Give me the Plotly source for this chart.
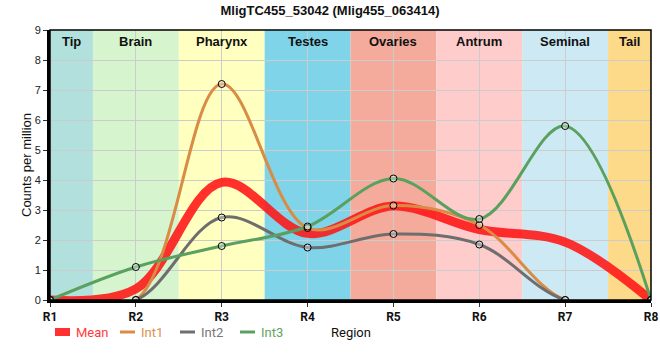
import plotly.graph_objects as go

regions = ["R1", "R2", "R3", "R4", "R5", "R6", "R7", "R8"]
mean_vals = [0, 0.37, 3.92, 2.22, 3.13, 2.35, 1.93, 0]
int1_vals = [0, 0, 7.2, 2.4, 3.15, 2.5, 0, 0]
int2_vals = [0, 0, 2.75, 1.75, 2.2, 1.85, 0, 0]
int3_vals = [0, 1.1, 1.8, 2.45, 4.05, 2.7, 5.8, 0]

band_names = ["Tip", "Brain", "Pharynx", "Testes", "Ovaries", "Antrum", "Seminal", "Tail"]
band_starts = [0, 0.5, 1.5, 2.5, 3.5, 4.5, 5.5, 6.5]
band_ends = [0.5, 1.5, 2.5, 3.5, 4.5, 5.5, 6.5, 7]
band_colors = ["#b2e0dc", "#d6f5cf", "#ffffc0", "#7fd4ea", "#f4ab9c", "#ffcccc", "#cce9f4", "#fdd98a"]

W, H = 660, 360
L, R, T, B = 50, 9, 30, 60
PW, PH = W - L - R, H - T - B


def px(x):
    return (x - L) / PW


def py(y):
    return (H - B - y) / PH


xs = list(range(len(regions)))

fig = go.Figure()

for s, e, c, n in zip(band_starts, band_ends, band_colors, band_names):
    fig.add_shape(type="rect", xref="x", yref="paper", x0=s, x1=e, y0=0, y1=1,
                  fillcolor=c, line_width=0, layer="below")
    fig.add_annotation(x=(s + e) / 2, y=1, xref="x", yref="paper", yanchor="top",
                       yshift=-2, text="<b>%s</b>" % n, showarrow=False,
                       font=dict(family="Liberation Sans, Arial", size=13, color="#111"))

mean_col = "rgba(255,20,20,0.88)"
fig.add_trace(go.Scatter(x=xs, y=mean_vals, mode="lines", name="Mean",
                         line=dict(color=mean_col, width=9, shape="spline", smoothing=1.0)))
series = [("Int1", int1_vals, "#d98c45"), ("Int2", int2_vals, "#6e6e6e"), ("Int3", int3_vals, "#5aa05e")]
for name, vals, col in series:
    fig.add_trace(go.Scatter(x=xs, y=vals, mode="lines", name=name,
                             line=dict(color=col, width=3, shape="spline", smoothing=1.0)))
for name, vals, col in series:
    fig.add_trace(go.Scatter(x=xs, y=vals, mode="markers", name=name, showlegend=False,
                             marker=dict(size=7, color="rgba(255,255,255,0.35)",
                                         line=dict(color="black", width=1))))

fig.add_shape(type="rect", xref="paper", yref="paper", x0=0, x1=1, y0=0, y1=1,
              line=dict(color="black", width=1.5), layer="above")

# manual legend
legend_items = [("Mean", "#ff3b3b", mean_col, 8, 55, 74),
                ("Int1", "#e0904a", "#d98c45", 3, 120, 139),
                ("Int2", "#777777", "#6e6e6e", 3, 180, 199),
                ("Int3", "#5fa563", "#5aa05e", 3, 240, 259)]
ly = 332
for text, tcol, lcol, lw, x0, tx in legend_items:
    fig.add_shape(type="line", xref="paper", yref="paper", x0=px(x0), x1=px(x0 + 15),
                  y0=py(ly), y1=py(ly), line=dict(color=lcol, width=lw))
    fig.add_annotation(x=px(tx), y=py(ly), xref="paper", yref="paper", xanchor="left",
                       yanchor="middle", text=text, showarrow=False,
                       font=dict(family="Roboto, Arial", size=13, color=tcol))

fig.add_annotation(x=px(351), y=py(ly), xref="paper", yref="paper", text="Region",
                   xanchor="center", yanchor="middle",
                   showarrow=False, font=dict(family="Roboto, Arial", size=13, color="#111"))

fig.add_annotation(x=px(26), y=0.5, xref="paper", yref="paper", text="Counts per million",
                   textangle=-90, xanchor="center", yanchor="middle", showarrow=False,
                   font=dict(family="Liberation Sans, Arial", size=13, color="#111"))

fig.update_layout(
    width=W, height=H,
    margin=dict(l=L, r=R, t=T, b=B, autoexpand=False),
    paper_bgcolor="white", plot_bgcolor="white",
    title=dict(text="<b>MligTC455_53042 (Mlig455_063414)</b>", x=0.5, xanchor="center",
               y=1 - 10 / H, yanchor="middle", yref="container",
               font=dict(family="Liberation Sans, Arial", size=13, color="#111")),
    showlegend=False,
    xaxis=dict(range=[0, 7], tickvals=xs, ticktext=["<b>%s</b>" % r for r in regions],
               automargin=False,
               showgrid=True, gridcolor="#cccccc", gridwidth=1, zeroline=False,
               showline=True, linecolor="black", linewidth=3,
               ticks="outside", ticklen=4, tickcolor="#333",
               tickfont=dict(family="Roboto, Arial", size=12, color="#111")),
    yaxis=dict(range=[0, 9], dtick=1, showgrid=True, gridcolor="#cccccc", gridwidth=1,
               automargin=False,
               zeroline=False, showline=True, linecolor="black", linewidth=3,
               ticks="outside", ticklen=4, tickcolor="#333",
               tickfont=dict(family="Liberation Sans, Arial", size=11, color="#222")),
)

fig.write_html("out.html", config={"displayModeBar": False},
               post_script="document.body.style.margin='0';")
